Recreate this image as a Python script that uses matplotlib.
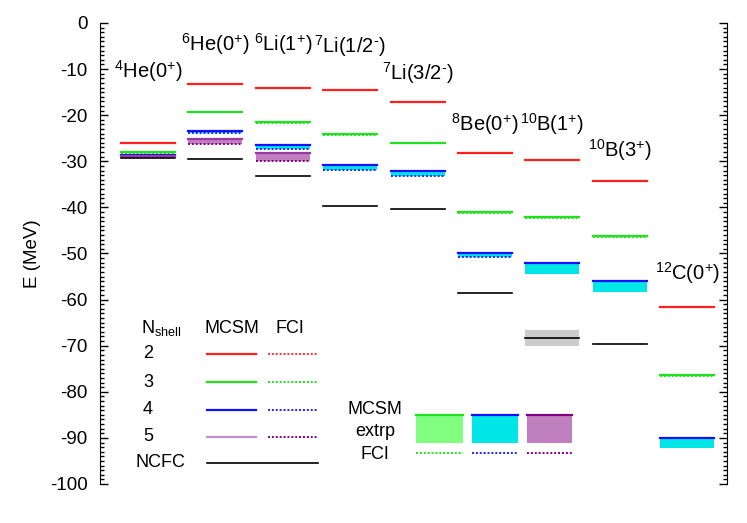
import matplotlib
matplotlib.use("Agg")
import matplotlib.pyplot as plt
import numpy as np

plt.rcParams['font.family'] = ['Liberation Sans', 'DejaVu Sans']
plt.rcParams['mathtext.fontset'] = 'custom'
plt.rcParams['mathtext.rm'] = 'Liberation Sans'
plt.rcParams['mathtext.it'] = 'Liberation Sans:italic'
plt.rcParams['mathtext.bf'] = 'Liberation Sans:bold'
plt.rcParams['axes.unicode_minus'] = False
plt.rcParams['font.size'] = 13

nan = np.nan
nuclei = [r'$^{4}$He(0$^{+}$)', r'$^{6}$He(0$^{+}$)', r'$^{6}$Li(1$^{+}$)',
          '$^{7}$Li(1/2$^{\u2010}$)', '$^{7}$Li(3/2$^{\u2010}$)', r'$^{8}$Be(0$^{+}$)',
          r'$^{10}$B(1$^{+}$)', r'$^{10}$B(3$^{+}$)', r'$^{12}$C(0$^{+}$)']
label_y = [-10.4, -4.5, -4.5, -4.9, -10.9, -22.0, -22.0, -27.6, -54.2]

# energies (MeV) per Nshell
mcsm2 = [-26.0, -13.3, -14.2, -14.5, -17.2, -28.3, -29.7, -34.2, -61.5]
fci2 = [-26.0, -13.3, -14.2, -14.5, -17.2, -28.3, -29.7, -34.2, -61.5]
mcsm3 = [-28.0, -19.2, -21.5, -24.1, -26.0, -41.1, -42.0, -46.1, -76.3]
fci3 = [-28.1, -19.3, -21.6, -24.2, -26.1, -41.3, -42.3, -46.4, -76.6]
mcsm4 = [-28.6, -23.4, -26.5, -30.7, -32.2, -50.0, -52.0, -55.9, -90.0]
extrp4 = [-28.7, -23.8, -27.3, -31.8, -33.2, -50.8, -54.5, -58.4, -92.2]
fci4 = [-28.7, -23.8, -27.3, -31.8, -33.2, -50.8, nan, nan, nan]
mcsm5 = [-28.9, -25.1, -28.3, nan, nan, nan, nan, nan, nan]
extrp5 = [-29.0, -26.2, -29.9, nan, nan, nan, nan, nan, nan]
fci5 = [-29.0, -26.2, -29.9, nan, nan, nan, nan, nan, nan]
ncfc = [-29.2, -29.5, -33.2, -39.6, -40.3, -58.6, -68.3, -69.7, nan]
ncfc_err = [0, 0, 0, 0, 0, 0, 1.7, 0, 0]

nshell_labels = ['2', '3', '4', '5']
solid_cols = ['#ff2020', '#20e020', '#1010ff', '#9a3aa0']
legend_solid_cols = ['#ff2020', '#20e020', '#1010ff', '#c090c8']
dot_cols = ['#ff3030', '#20e020', '#2020ff', '#800080']
fill_cols = ['#ff8080', '#80ff80', '#00e5e5', '#c080c0']

mcsm = [mcsm2, mcsm3, mcsm4, mcsm5]
extrp = [fci2, fci3, extrp4, extrp5]
fci = [fci2, fci3, fci4, fci5]

hw = 0.40
dot = (0, (1, 1))

fig = plt.figure(figsize=(7.47, 5.23), dpi=100)
ax = fig.add_axes([100/747, 1-484/523, (727-100)/747, (484-23)/523])

for i in range(len(nuclei)):
    x0, x1 = i - hw, i + hw
    # NCFC band
    if ncfc_err[i] > 0:
        ax.fill_between([x0, x1], ncfc[i] - ncfc_err[i], ncfc[i] + ncfc_err[i],
                        color='#cccccc', lw=0)
    for k in range(4):
        m, e = mcsm[k][i], extrp[k][i]
        if not np.isnan(m) and not np.isnan(e) and k >= 1:
            ax.fill_between([x0, x1], e, m, color=fill_cols[k], lw=0)
    for k in range(4):
        f = fci[k][i]
        if not np.isnan(f):
            ax.plot([x0, x1], [f, f], color=dot_cols[k], lw=1.4, ls=dot)
        m = mcsm[k][i]
        if not np.isnan(m):
            ax.plot([x0, x1], [m, m], color=solid_cols[k], lw=1.6)
    if not np.isnan(ncfc[i]):
        ax.plot([x0, x1], [ncfc[i], ncfc[i]], color='black', lw=1.2)
    ax.text(i, label_y[i], nuclei[i], ha='center', va='center', fontsize=14.5)

# legend for Nshell lines
leg_rows = [-71.8, -77.9, -83.9, -89.8]
ax.text(0.2, -66.2, r'N$_{\rm shell}$', ha='center', va='center')
ax.text(1.24, -66.2, 'MCSM', ha='center', va='center')
ax.text(2.1, -66.2, 'FCI', ha='center', va='center')
for k in range(4):
    ax.text(0.0, leg_rows[k], nshell_labels[k], ha='center', va='center')
    ax.plot([0.88, 1.6], [leg_rows[k]] * 2, color=legend_solid_cols[k], lw=1.6)
    ax.plot([1.78, 2.52], [leg_rows[k]] * 2, color=dot_cols[k], lw=1.4, ls=dot)
ax.text(0.18, -95.4, 'NCFC', ha='center', va='center')
ax.plot([0.88, 2.52], [-95.4, -95.4], color='black', lw=1.2)

# legend for extrapolation bands
ax.text(3.37, -83.8, 'MCSM', ha='center', va='center')
ax.text(3.37, -88.7, 'extrp', ha='center', va='center')
ax.text(3.37, -93.7, 'FCI', ha='center', va='center')
box_x = [(3.97, 4.68), (4.80, 5.49), (5.62, 6.29)]
for (bx0, bx1), k in zip(box_x, [1, 2, 3]):
    ax.fill_between([bx0, bx1], -91.0, -85.1, color=fill_cols[k], lw=0)
    ax.plot([bx0, bx1], [-85.1, -85.1], color=dot_cols[k] if k == 3 else solid_cols[k], lw=1.6)
    ax.plot([bx0, bx1], [-93.3, -93.3], color=dot_cols[k], lw=1.4, ls=dot)

ax.set_xlim(-0.712, 8.59)
ax.set_ylim(-100, 0)
ax.set_yticks(np.arange(-100, 1, 10))
ax.set_yticks(np.arange(-100, 1, 1), minor=True)
ax.set_xticks([])
ax.spines['top'].set_visible(False)
ax.spines['bottom'].set_visible(False)
ax.tick_params(axis='y', which='both', direction='in', right=True, left=True, width=1.0)
ax.tick_params(axis='y', which='major', length=6, pad=9, labelsize=13.5)
ax.tick_params(axis='y', which='minor', length=3)
ax.set_ylabel('E (MeV)', fontsize=13.5, labelpad=6)

fig.savefig('out.png', dpi=100)
